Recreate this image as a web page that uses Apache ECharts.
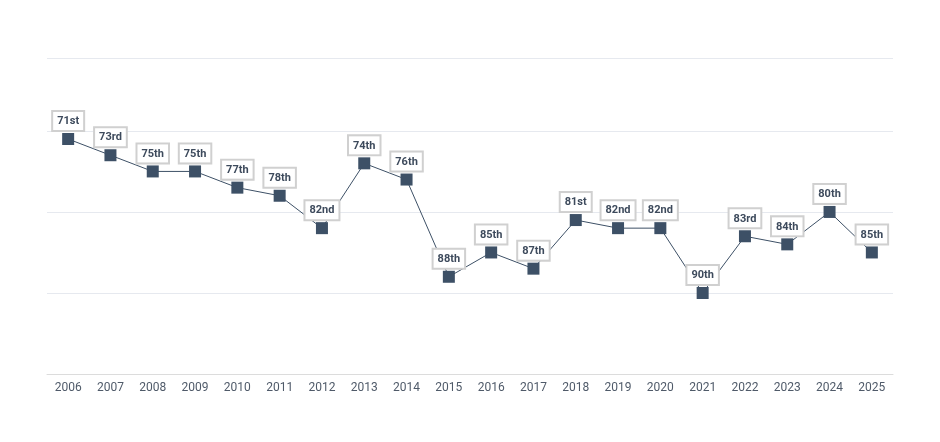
<!DOCTYPE html>
<html><head><meta charset="utf-8">
<script src="https://cdn.jsdelivr.net/npm/echarts@6/dist/echarts.min.js"></script>
<style>html,body{margin:0;padding:0;background:#fff}#c{width:940px;height:442px}</style>
</head><body><div id="c"></div>
<script>
const years = ['2006','2007','2008','2009','2010','2011','2012','2013','2014','2015','2016','2017','2018','2019','2020','2021','2022','2023','2024','2025'];
const ranks = [71,73,75,75,77,78,82,74,76,88,85,87,81,82,82,90,83,84,80,85];

function ordinal(n){
  const s = n % 100;
  if (s >= 11 && s <= 13) return n + 'th';
  switch (n % 10) { case 1: return n+'st'; case 2: return n+'nd'; case 3: return n+'rd'; default: return n+'th'; }
}

const chart = echarts.init(document.getElementById('c'), null, {renderer:'canvas'});
chart.setOption({
  animation:false,
  grid:{left:47,right:47,top:58,bottom:68},
  xAxis:{type:'category',data:years,boundaryGap:true,
    axisLine:{lineStyle:{color:'#dcdcdc',width:1}},axisTick:{show:false},
    axisLabel:{color:'#4f5a69',fontFamily:'Roboto',fontSize:12,margin:8}},
  yAxis:{type:'value',inverse:true,min:61,max:100,splitNumber:4,
    axisLabel:{show:false},axisLine:{show:false},axisTick:{show:false},
    splitLine:{lineStyle:{color:'#e6e9ef',width:1}}},
  series:[{type:'line',data:ranks,symbol:'rect',symbolSize:12,
    itemStyle:{color:'#3d5066'},lineStyle:{color:'#3d5066',width:1},
    label:{show:true,position:'top',distance:3,formatter:p=>ordinal(p.value),
      fontFamily:'Roboto',fontWeight:'bold',fontSize:11,color:'#3d4a5c',
      backgroundColor:'#fff',borderColor:'#d0d0d0',borderWidth:2,padding:[4,4,3,4]}}]
});
</script></body></html>
